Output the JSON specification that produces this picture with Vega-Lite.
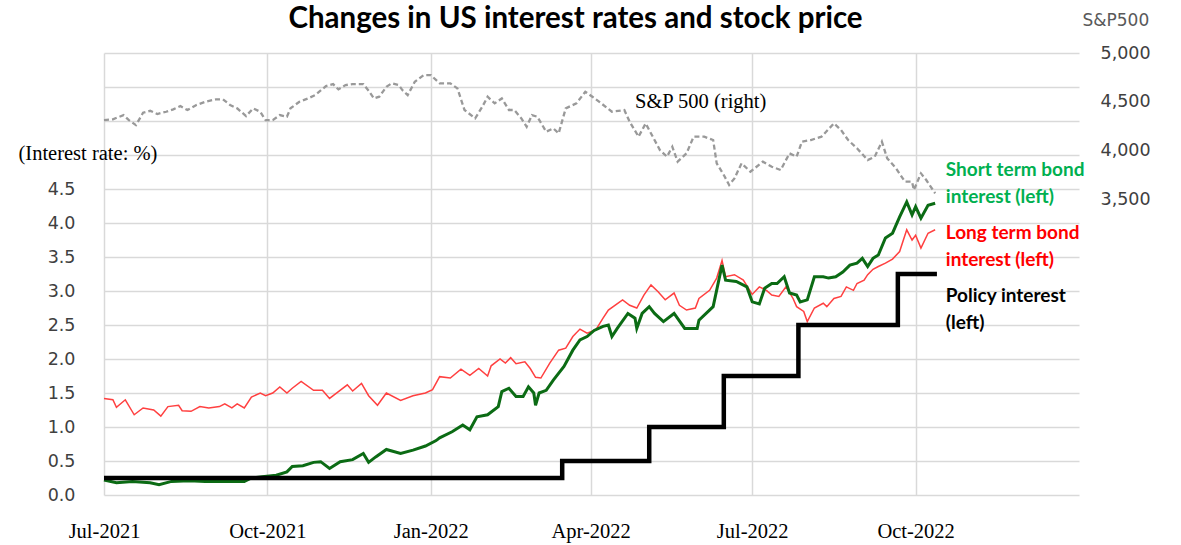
{
  "$schema": "https://vega.github.io/schema/vega-lite/v6.json",
  "width": 975,
  "height": 442,
  "autosize": {"type": "none"},
  "padding": {"left": 104, "top": 53, "right": 102, "bottom": 50},
  "background": "white",
  "config": {"view": {"stroke": null}},
  "title": {"text": "Changes in US interest rates and stock price", "font": "Lato", "fontSize": 29.5, "fontWeight": "bold", "color": "#000000", "anchor": "middle", "dx": -16, "dy": 27},
  "datasets": {
    "long": [
      {"date":"2021-07-01","v":1.42},{"date":"2021-07-06","v":1.40},{"date":"2021-07-08","v":1.29},{"date":"2021-07-13","v":1.40},{"date":"2021-07-18","v":1.18},{"date":"2021-07-23","v":1.28},{"date":"2021-07-29","v":1.25},{"date":"2021-08-02","v":1.16},{"date":"2021-08-06","v":1.30},{"date":"2021-08-12","v":1.32},{"date":"2021-08-14","v":1.24},{"date":"2021-08-19","v":1.23},{"date":"2021-08-24","v":1.30},{"date":"2021-08-29","v":1.28},{"date":"2021-09-04","v":1.30},{"date":"2021-09-07","v":1.34},{"date":"2021-09-11","v":1.28},{"date":"2021-09-14","v":1.34},{"date":"2021-09-18","v":1.28},{"date":"2021-09-22","v":1.44},{"date":"2021-09-27","v":1.50},{"date":"2021-09-30","v":1.46},{"date":"2021-10-04","v":1.50},{"date":"2021-10-08","v":1.59},{"date":"2021-10-12","v":1.50},{"date":"2021-10-15","v":1.57},{"date":"2021-10-20","v":1.67},{"date":"2021-10-27","v":1.54},{"date":"2021-11-01","v":1.54},{"date":"2021-11-05","v":1.42},{"date":"2021-11-10","v":1.52},{"date":"2021-11-15","v":1.62},{"date":"2021-11-18","v":1.53},{"date":"2021-11-23","v":1.64},{"date":"2021-11-27","v":1.46},{"date":"2021-12-02","v":1.32},{"date":"2021-12-07","v":1.50},{"date":"2021-12-15","v":1.39},{"date":"2021-12-22","v":1.46},{"date":"2021-12-29","v":1.50},{"date":"2022-01-02","v":1.55},{"date":"2022-01-06","v":1.74},{"date":"2022-01-12","v":1.72},{"date":"2022-01-18","v":1.85},{"date":"2022-01-23","v":1.76},{"date":"2022-01-28","v":1.86},{"date":"2022-02-02","v":1.75},{"date":"2022-02-04","v":1.90},{"date":"2022-02-09","v":2.00},{"date":"2022-02-12","v":1.94},{"date":"2022-02-15","v":2.02},{"date":"2022-02-18","v":1.93},{"date":"2022-02-23","v":1.96},{"date":"2022-02-26","v":1.86},{"date":"2022-03-01","v":1.73},{"date":"2022-03-04","v":1.72},{"date":"2022-03-09","v":1.94},{"date":"2022-03-14","v":2.13},{"date":"2022-03-18","v":2.16},{"date":"2022-03-22","v":2.33},{"date":"2022-03-26","v":2.44},{"date":"2022-03-30","v":2.38},{"date":"2022-04-04","v":2.43},{"date":"2022-04-08","v":2.60},{"date":"2022-04-11","v":2.72},{"date":"2022-04-19","v":2.87},{"date":"2022-04-23","v":2.79},{"date":"2022-04-27","v":2.75},{"date":"2022-05-01","v":2.94},{"date":"2022-05-05","v":3.09},{"date":"2022-05-09","v":2.99},{"date":"2022-05-13","v":2.87},{"date":"2022-05-18","v":2.97},{"date":"2022-05-21","v":2.79},{"date":"2022-05-25","v":2.72},{"date":"2022-05-30","v":2.75},{"date":"2022-06-01","v":2.89},{"date":"2022-06-07","v":3.01},{"date":"2022-06-11","v":3.19},{"date":"2022-06-14","v":3.45},{"date":"2022-06-16","v":3.21},{"date":"2022-06-21","v":3.24},{"date":"2022-06-26","v":3.16},{"date":"2022-07-01","v":2.95},{"date":"2022-07-05","v":3.06},{"date":"2022-07-09","v":3.01},{"date":"2022-07-12","v":2.94},{"date":"2022-07-16","v":2.92},{"date":"2022-07-20","v":3.06},{"date":"2022-07-24","v":2.89},{"date":"2022-07-26","v":2.77},{"date":"2022-07-30","v":2.70},{"date":"2022-08-01","v":2.55},{"date":"2022-08-05","v":2.75},{"date":"2022-08-10","v":2.82},{"date":"2022-08-12","v":2.77},{"date":"2022-08-16","v":2.89},{"date":"2022-08-20","v":2.92},{"date":"2022-08-23","v":3.06},{"date":"2022-08-27","v":3.01},{"date":"2022-08-29","v":3.11},{"date":"2022-09-02","v":3.16},{"date":"2022-09-04","v":3.24},{"date":"2022-09-07","v":3.32},{"date":"2022-09-10","v":3.36},{"date":"2022-09-14","v":3.41},{"date":"2022-09-18","v":3.47},{"date":"2022-09-22","v":3.58},{"date":"2022-09-26","v":3.90},{"date":"2022-09-29","v":3.75},{"date":"2022-10-01","v":3.82},{"date":"2022-10-04","v":3.63},{"date":"2022-10-08","v":3.85},{"date":"2022-10-12","v":3.90}
    ],
    "short": [
      {"date":"2021-07-01","v":0.22},{"date":"2021-07-08","v":0.18},{"date":"2021-07-17","v":0.20},{"date":"2021-07-27","v":0.18},{"date":"2021-08-01","v":0.15},{"date":"2021-08-08","v":0.20},{"date":"2021-08-18","v":0.21},{"date":"2021-08-27","v":0.20},{"date":"2021-09-08","v":0.20},{"date":"2021-09-18","v":0.20},{"date":"2021-09-22","v":0.25},{"date":"2021-09-28","v":0.27},{"date":"2021-10-06","v":0.29},{"date":"2021-10-12","v":0.34},{"date":"2021-10-15","v":0.42},{"date":"2021-10-21","v":0.43},{"date":"2021-10-27","v":0.48},{"date":"2021-10-31","v":0.49},{"date":"2021-11-05","v":0.39},{"date":"2021-11-11","v":0.49},{"date":"2021-11-18","v":0.52},{"date":"2021-11-24","v":0.61},{"date":"2021-11-27","v":0.48},{"date":"2021-12-01","v":0.56},{"date":"2021-12-07","v":0.67},{"date":"2021-12-15","v":0.61},{"date":"2021-12-22","v":0.66},{"date":"2021-12-29","v":0.72},{"date":"2022-01-04","v":0.80},{"date":"2022-01-06","v":0.84},{"date":"2022-01-13","v":0.93},{"date":"2022-01-19","v":1.03},{"date":"2022-01-23","v":0.96},{"date":"2022-01-27","v":1.15},{"date":"2022-02-02","v":1.18},{"date":"2022-02-08","v":1.30},{"date":"2022-02-10","v":1.52},{"date":"2022-02-14","v":1.57},{"date":"2022-02-18","v":1.45},{"date":"2022-02-22","v":1.45},{"date":"2022-02-25","v":1.59},{"date":"2022-02-28","v":1.50},{"date":"2022-03-01","v":1.32},{"date":"2022-03-03","v":1.50},{"date":"2022-03-07","v":1.54},{"date":"2022-03-11","v":1.69},{"date":"2022-03-17","v":1.89},{"date":"2022-03-22","v":2.13},{"date":"2022-03-26","v":2.28},{"date":"2022-03-30","v":2.33},{"date":"2022-04-03","v":2.42},{"date":"2022-04-08","v":2.48},{"date":"2022-04-11","v":2.50},{"date":"2022-04-13","v":2.33},{"date":"2022-04-16","v":2.45},{"date":"2022-04-22","v":2.67},{"date":"2022-04-26","v":2.60},{"date":"2022-04-27","v":2.45},{"date":"2022-04-30","v":2.67},{"date":"2022-05-04","v":2.77},{"date":"2022-05-07","v":2.67},{"date":"2022-05-12","v":2.55},{"date":"2022-05-18","v":2.67},{"date":"2022-05-24","v":2.45},{"date":"2022-05-31","v":2.45},{"date":"2022-06-01","v":2.57},{"date":"2022-06-09","v":2.77},{"date":"2022-06-14","v":3.38},{"date":"2022-06-16","v":3.16},{"date":"2022-06-22","v":3.14},{"date":"2022-06-28","v":3.06},{"date":"2022-07-01","v":2.84},{"date":"2022-07-05","v":2.81},{"date":"2022-07-08","v":3.04},{"date":"2022-07-12","v":3.11},{"date":"2022-07-15","v":3.11},{"date":"2022-07-19","v":3.21},{"date":"2022-07-22","v":2.97},{"date":"2022-07-26","v":2.94},{"date":"2022-07-28","v":2.84},{"date":"2022-08-01","v":2.87},{"date":"2022-08-05","v":3.21},{"date":"2022-08-10","v":3.21},{"date":"2022-08-13","v":3.19},{"date":"2022-08-17","v":3.21},{"date":"2022-08-21","v":3.28},{"date":"2022-08-25","v":3.38},{"date":"2022-08-29","v":3.41},{"date":"2022-09-01","v":3.48},{"date":"2022-09-04","v":3.36},{"date":"2022-09-07","v":3.48},{"date":"2022-09-10","v":3.53},{"date":"2022-09-14","v":3.78},{"date":"2022-09-18","v":3.85},{"date":"2022-09-22","v":4.09},{"date":"2022-09-26","v":4.31},{"date":"2022-09-29","v":4.12},{"date":"2022-10-01","v":4.24},{"date":"2022-10-04","v":4.07},{"date":"2022-10-08","v":4.26},{"date":"2022-10-12","v":4.29}
    ],
    "policy": [
      {"date":"2021-07-01","v":0.25},{"date":"2022-03-16","v":0.5},{"date":"2022-05-04","v":1.0},{"date":"2022-06-15","v":1.75},{"date":"2022-07-27","v":2.5},{"date":"2022-09-21","v":3.25},{"date":"2022-10-13","v":3.25}
    ],
    "sp": [
      {"date":"2021-07-01","sp":4314},{"date":"2021-07-06","sp":4322},{"date":"2021-07-12","sp":4365},{"date":"2021-07-15","sp":4314},{"date":"2021-07-19","sp":4263},{"date":"2021-07-23","sp":4389},{"date":"2021-07-27","sp":4409},{"date":"2021-07-31","sp":4376},{"date":"2021-08-05","sp":4399},{"date":"2021-08-09","sp":4424},{"date":"2021-08-13","sp":4457},{"date":"2021-08-17","sp":4417},{"date":"2021-08-22","sp":4468},{"date":"2021-08-27","sp":4501},{"date":"2021-09-02","sp":4526},{"date":"2021-09-06","sp":4526},{"date":"2021-09-10","sp":4468},{"date":"2021-09-14","sp":4434},{"date":"2021-09-19","sp":4355},{"date":"2021-09-23","sp":4434},{"date":"2021-09-27","sp":4399},{"date":"2021-09-30","sp":4314},{"date":"2021-10-04","sp":4314},{"date":"2021-10-08","sp":4365},{"date":"2021-10-12","sp":4348},{"date":"2021-10-14","sp":4434},{"date":"2021-10-19","sp":4501},{"date":"2021-10-24","sp":4536},{"date":"2021-10-28","sp":4570},{"date":"2021-11-03","sp":4662},{"date":"2021-11-07","sp":4682},{"date":"2021-11-10","sp":4628},{"date":"2021-11-14","sp":4672},{"date":"2021-11-18","sp":4682},{"date":"2021-11-24","sp":4682},{"date":"2021-11-27","sp":4614},{"date":"2021-11-30","sp":4536},{"date":"2021-12-03","sp":4553},{"date":"2021-12-07","sp":4655},{"date":"2021-12-10","sp":4690},{"date":"2021-12-14","sp":4672},{"date":"2021-12-16","sp":4621},{"date":"2021-12-19","sp":4570},{"date":"2021-12-23","sp":4706},{"date":"2021-12-28","sp":4774},{"date":"2022-01-01","sp":4774},{"date":"2022-01-06","sp":4690},{"date":"2022-01-12","sp":4690},{"date":"2022-01-16","sp":4638},{"date":"2022-01-20","sp":4417},{"date":"2022-01-26","sp":4332},{"date":"2022-01-30","sp":4450},{"date":"2022-02-02","sp":4553},{"date":"2022-02-06","sp":4485},{"date":"2022-02-10","sp":4536},{"date":"2022-02-14","sp":4417},{"date":"2022-02-17","sp":4417},{"date":"2022-02-21","sp":4332},{"date":"2022-02-24","sp":4246},{"date":"2022-02-27","sp":4365},{"date":"2022-03-02","sp":4348},{"date":"2022-03-07","sp":4195},{"date":"2022-03-11","sp":4229},{"date":"2022-03-14","sp":4178},{"date":"2022-03-18","sp":4434},{"date":"2022-03-24","sp":4485},{"date":"2022-03-29","sp":4604},{"date":"2022-04-02","sp":4553},{"date":"2022-04-07","sp":4485},{"date":"2022-04-13","sp":4399},{"date":"2022-04-20","sp":4417},{"date":"2022-04-23","sp":4297},{"date":"2022-04-28","sp":4144},{"date":"2022-05-02","sp":4280},{"date":"2022-05-04","sp":4212},{"date":"2022-05-10","sp":4008},{"date":"2022-05-14","sp":3940},{"date":"2022-05-17","sp":4041},{"date":"2022-05-20","sp":3889},{"date":"2022-05-25","sp":3974},{"date":"2022-05-29","sp":4144},{"date":"2022-06-04","sp":4144},{"date":"2022-06-09","sp":4110},{"date":"2022-06-11","sp":3872},{"date":"2022-06-15","sp":3752},{"date":"2022-06-18","sp":3650},{"date":"2022-06-21","sp":3718},{"date":"2022-06-25","sp":3872},{"date":"2022-06-30","sp":3786},{"date":"2022-07-07","sp":3889},{"date":"2022-07-12","sp":3837},{"date":"2022-07-17","sp":3803},{"date":"2022-07-22","sp":3974},{"date":"2022-07-26","sp":3940},{"date":"2022-07-29","sp":4093},{"date":"2022-08-03","sp":4110},{"date":"2022-08-09","sp":4144},{"date":"2022-08-16","sp":4280},{"date":"2022-08-20","sp":4212},{"date":"2022-08-24","sp":4110},{"date":"2022-08-29","sp":4025},{"date":"2022-09-04","sp":3905},{"date":"2022-09-08","sp":3940},{"date":"2022-09-12","sp":4093},{"date":"2022-09-15","sp":3923},{"date":"2022-09-20","sp":3820},{"date":"2022-09-25","sp":3684},{"date":"2022-09-29","sp":3684},{"date":"2022-09-30","sp":3599},{"date":"2022-10-04","sp":3769},{"date":"2022-10-07","sp":3701},{"date":"2022-10-12","sp":3565}
    ],
    "labels": [
      {"date":"2022-10-18","v":4.78,"text":"Short term bond","series":"short"},
      {"date":"2022-10-18","v":4.38,"text":"interest (left)","series":"short"},
      {"date":"2022-10-18","v":3.85,"text":"Long term bond","series":"long"},
      {"date":"2022-10-18","v":3.46,"text":"interest (left)","series":"long"},
      {"date":"2022-10-18","v":2.93,"text":"Policy interest","series":"policy"},
      {"date":"2022-10-18","v":2.53,"text":"(left)","series":"policy"}
    ],
    "splabel": [
      {"date":"2022-04-26","sp":4498,"text":"S&P 500 (right)"}
    ]
  },
  "encoding": {
    "x": {
      "field": "date", "type": "temporal",
      "scale": {"type": "utc", "domain": [{"year":2021,"month":7,"date":1,"utc":true},{"year":2023,"month":1,"date":1,"utc":true}]},
      "axis": {
        "values": [{"year":2021,"month":7,"date":1,"utc":true},{"year":2021,"month":10,"date":1,"utc":true},{"year":2022,"month":1,"date":1,"utc":true},{"year":2022,"month":4,"date":1,"utc":true},{"year":2022,"month":7,"date":1,"utc":true},{"year":2022,"month":10,"date":1,"utc":true}],
        "labelExpr": "utcFormat(datum.value, '%b-%Y')",
        "grid": true, "gridColor": "#d9d9d9", "gridWidth": 1.5,
        "ticks": false, "domain": false, "labelFlush": false, "labelOverlap": false,
        "labelFont": "Liberation Serif", "labelFontSize": 20.5, "labelColor": "#000000",
        "labelPadding": 26, "labelBaseline": "top", "title": null
      }
    }
  },
  "layer": [
    {
      "encoding": {
        "y": {
          "field": "sp", "type": "quantitative",
          "scale": {"domain": [480, 5000], "nice": false, "zero": false},
          "axis": {
            "orient": "right", "values": [3500, 4000, 4500, 5000],
            "labelExpr": "format(datum.value, ',.0f')",
            "grid": false, "ticks": false, "domain": false,
            "labelFont": "DejaVu Sans", "labelFontSize": 17.5, "labelColor": "#404040", "labelPadding": 21,
            "title": "S&P500", "titleAngle": 0, "titleAlign": "left", "titleBaseline": "middle",
            "titleX": 3, "titleY": -33, "titleFont": "DejaVu Sans", "titleFontSize": 17,
            "titleFontWeight": "normal", "titleColor": "#595959"
          }
        }
      },
      "layer": [
        {"data": {"name": "sp"}, "mark": {"type": "line", "color": "#999999", "strokeWidth": 2.3, "strokeDash": [5, 3]}},
        {"data": {"name": "splabel"}, "mark": {"type": "text", "align": "left", "baseline": "middle", "font": "Liberation Serif", "fontSize": 20.5, "color": "#000000"}, "encoding": {"text": {"field": "text"}}}
      ]
    },
    {
      "encoding": {
        "y": {
          "field": "v", "type": "quantitative",
          "scale": {"domain": [0, 6.5], "nice": false},
          "axis": {
            "orient": "left", "values": [0,0.5,1,1.5,2,2.5,3,3.5,4,4.5,5,5.5,6,6.5],
            "labelExpr": "datum.value <= 4.5 ? format(datum.value, '.1f') : ''",
            "grid": true, "gridColor": "#d9d9d9", "gridWidth": 1.5,
            "ticks": false, "domain": false,
            "labelFont": "DejaVu Sans", "labelFontSize": 17.5, "labelColor": "#404040", "labelPadding": 29,
            "title": "(Interest rate: %)", "titleAngle": 0, "titleAlign": "left", "titleBaseline": "middle",
            "titleX": -86, "titleY": 100, "titleFont": "Liberation Serif", "titleFontSize": 20.5,
            "titleFontWeight": "normal", "titleColor": "#000000"
          }
        }
      },
      "layer": [
        {"data": {"name": "long"}, "mark": {"type": "line", "color": "#ff4040", "strokeWidth": 1.5}},
        {"data": {"name": "short"}, "mark": {"type": "line", "color": "#0b6b14", "strokeWidth": 3}},
        {"data": {"name": "policy"}, "mark": {"type": "line", "color": "#000000", "strokeWidth": 4.5, "interpolate": "step-after"}},
        {"data": {"name": "labels"}, "mark": {"type": "text", "align": "left", "baseline": "middle", "font": "Lato", "fontWeight": "bold", "fontSize": 19},
         "encoding": {"text": {"field": "text"}, "color": {"field": "series", "type": "nominal", "scale": {"domain": ["short", "long", "policy"], "range": ["#00b050", "#ff0000", "#000000"]}, "legend": null}}}
      ]
    }
  ],
  "resolve": {"scale": {"y": "independent"}, "axis": {"y": "independent"}}
}
